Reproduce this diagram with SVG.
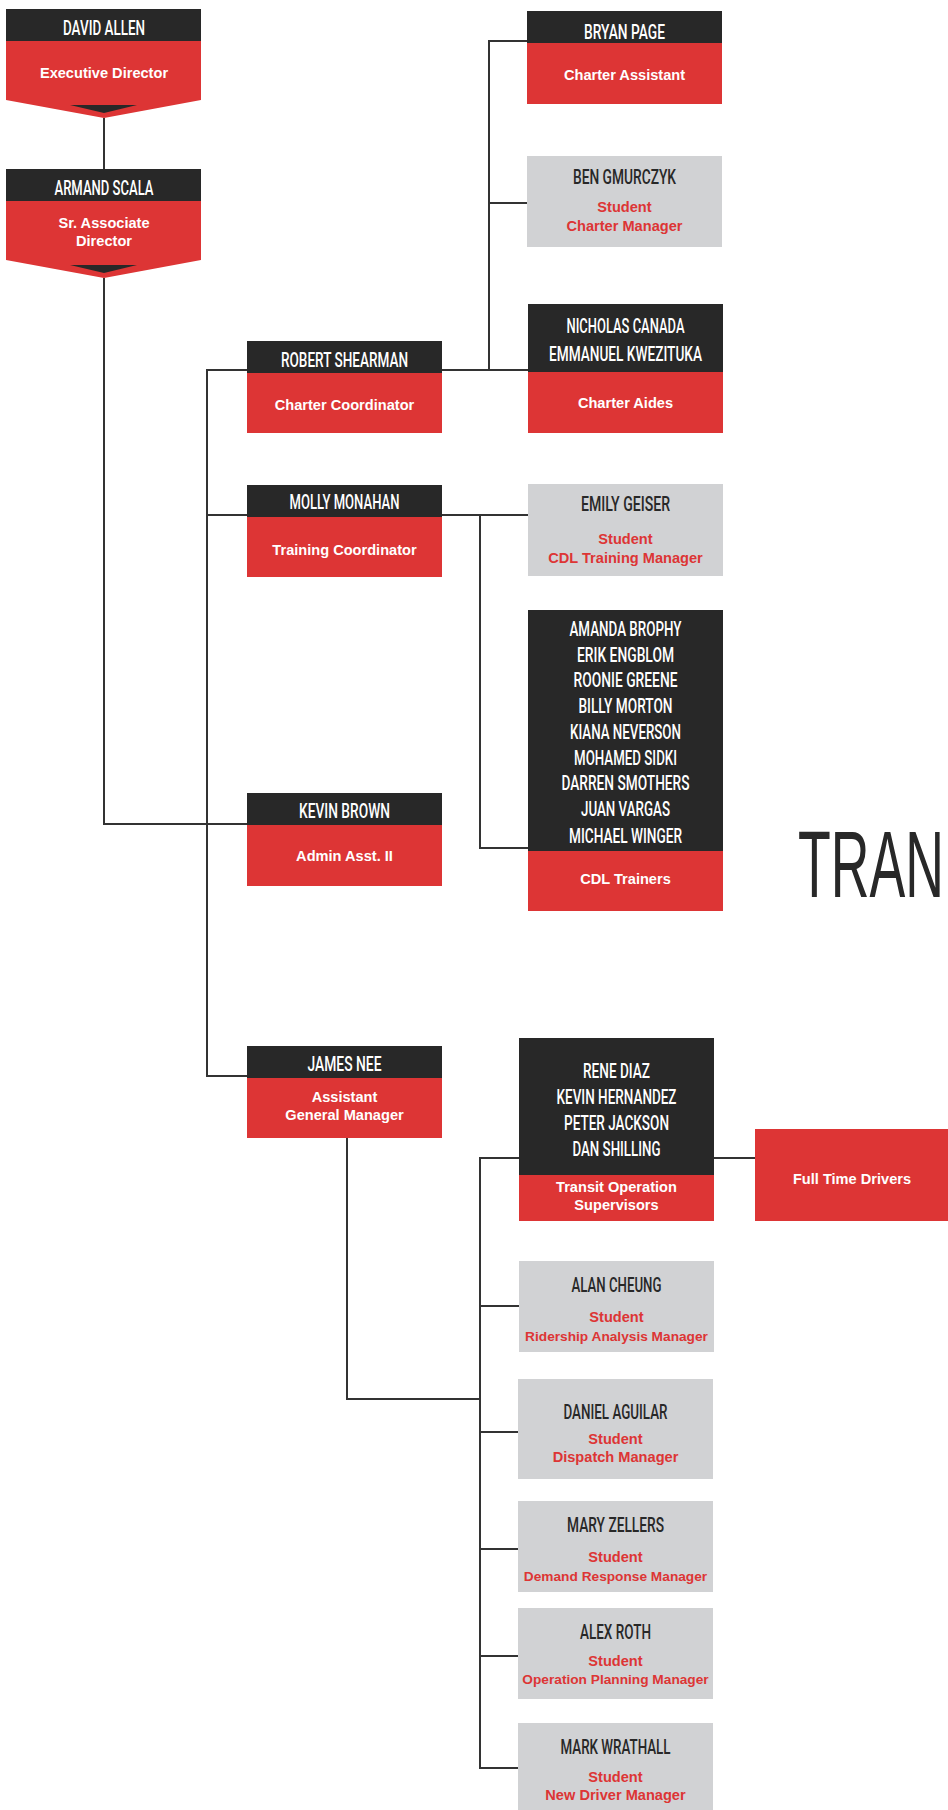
<svg xmlns="http://www.w3.org/2000/svg" width="948" height="1810" viewBox="0 0 948 1810">
<style>
.dk{fill:#282828}
.rd{fill:#dd3535}
.gy{fill:#d1d2d4}
.nm{font-family:Roboto,"Liberation Sans",sans-serif;font-weight:500;font-size:20px;text-anchor:middle}
.nw{fill:#ffffff}
.nb{fill:#282828}
.tt{font-family:"Liberation Sans",Arial,sans-serif;font-weight:bold;font-size:14.6px;text-anchor:middle}
.tw{fill:#ffffff}
.tr{fill:#dd3535}
.sm{font-size:13.7px}
.ln{fill:none;stroke:#333333;stroke-width:2}
</style>
<rect width="948" height="1810" fill="#ffffff"/>
<g id="connectors">
<path class="ln" d="M104,118 V169"/>
<path class="ln" d="M104,278 V824 H247"/>
<path class="ln" d="M247,370 H207 V1076 H247"/>
<path class="ln" d="M207,515 H247"/>
<path class="ln" d="M442,370 H528"/>
<path class="ln" d="M527,41 H489 V370"/>
<path class="ln" d="M489,203 H527"/>
<path class="ln" d="M442,515 H528"/>
<path class="ln" d="M480,515 V848 H528"/>
<path class="ln" d="M347,1138 V1399 H480"/>
<path class="ln" d="M519,1158 H480 V1768 H518"/>
<path class="ln" d="M480,1306 H519"/>
<path class="ln" d="M480,1432 H518"/>
<path class="ln" d="M480,1549 H518"/>
<path class="ln" d="M480,1656 H518"/>
<path class="ln" d="M714,1158 H755"/>
</g>
<g id="title">
<text x="798" y="897" font-family="'Liberation Sans',Arial,sans-serif" font-size="94" fill="#282828" textLength="146" lengthAdjust="spacingAndGlyphs">TRAN</text>
</g>
<g id="david-allen">
<rect class="dk" x="6" y="9" width="195" height="32"/>
<polygon class="rd" points="6,41 201,41 201,100 104,118 6,100"/>
<polygon class="dk" points="70,105 137,105 104,113"/>
<text class="nm nw" x="104" y="35" textLength="82" lengthAdjust="spacingAndGlyphs">DAVID ALLEN</text>
<text class="tt tw" x="104" y="78">Executive Director</text>
</g>
<g id="armand-scala">
<rect class="dk" x="6" y="169" width="195" height="32"/>
<polygon class="rd" points="6,201 201,201 201,260 104,278 6,260"/>
<polygon class="dk" points="70,265 137,265 104,273"/>
<text class="nm nw" x="104" y="195" textLength="99" lengthAdjust="spacingAndGlyphs">ARMAND SCALA</text>
<text class="tt tw" x="104" y="228">Sr. Associate</text>
<text class="tt tw" x="104" y="246">Director</text>
</g>
<g id="robert-shearman">
<rect class="dk" x="247" y="341" width="195" height="32"/>
<rect class="rd" x="247" y="373" width="195" height="60"/>
<text class="nm nw" x="344.5" y="367" textLength="127" lengthAdjust="spacingAndGlyphs">ROBERT SHEARMAN</text>
<text class="tt tw" x="344.5" y="410">Charter Coordinator</text>
</g>
<g id="molly-monahan">
<rect class="dk" x="247" y="485" width="195" height="32"/>
<rect class="rd" x="247" y="517" width="195" height="60"/>
<text class="nm nw" x="344.5" y="509" textLength="110" lengthAdjust="spacingAndGlyphs">MOLLY MONAHAN</text>
<text class="tt tw" x="344.5" y="555">Training Coordinator</text>
</g>
<g id="kevin-brown">
<rect class="dk" x="247" y="793" width="195" height="32"/>
<rect class="rd" x="247" y="825" width="195" height="61"/>
<text class="nm nw" x="344.5" y="818" textLength="91" lengthAdjust="spacingAndGlyphs">KEVIN BROWN</text>
<text class="tt tw" x="344.5" y="861">Admin Asst. II</text>
</g>
<g id="james-nee">
<rect class="dk" x="247" y="1046" width="195" height="32"/>
<rect class="rd" x="247" y="1078" width="195" height="60"/>
<text class="nm nw" x="344.5" y="1071" textLength="74" lengthAdjust="spacingAndGlyphs">JAMES NEE</text>
<text class="tt tw" x="344.5" y="1102">Assistant</text>
<text class="tt tw" x="344.5" y="1120">General Manager</text>
</g>
<g id="bryan-page">
<rect class="dk" x="527" y="11" width="195" height="32"/>
<rect class="rd" x="527" y="43" width="195" height="61"/>
<text class="nm nw" x="624.5" y="39" textLength="81" lengthAdjust="spacingAndGlyphs">BRYAN PAGE</text>
<text class="tt tw" x="624.5" y="80">Charter Assistant</text>
</g>
<g id="ben-gmurczyk">
<rect class="gy" x="527" y="156" width="195" height="91"/>
<text class="nm nb" x="624.5" y="184" textLength="103" lengthAdjust="spacingAndGlyphs">BEN GMURCZYK</text>
<text class="tt tr" x="624.5" y="212">Student</text>
<text class="tt tr" x="624.5" y="231">Charter Manager</text>
</g>
<g id="charter-aides">
<rect class="dk" x="528" y="304" width="195" height="68"/>
<rect class="rd" x="528" y="372" width="195" height="61"/>
<text class="nm nw" x="625.5" y="333" textLength="118" lengthAdjust="spacingAndGlyphs">NICHOLAS CANADA</text>
<text class="nm nw" x="625.5" y="361" textLength="153" lengthAdjust="spacingAndGlyphs">EMMANUEL KWEZITUKA</text>
<text class="tt tw" x="625.5" y="408">Charter Aides</text>
</g>
<g id="emily-geiser">
<rect class="gy" x="528" y="484" width="195" height="92"/>
<text class="nm nb" x="625.5" y="511" textLength="89" lengthAdjust="spacingAndGlyphs">EMILY GEISER</text>
<text class="tt tr" x="625.5" y="544">Student</text>
<text class="tt tr" x="625.5" y="563">CDL Training Manager</text>
</g>
<g id="cdl-trainers">
<rect class="dk" x="528" y="610" width="195" height="241"/>
<rect class="rd" x="528" y="851" width="195" height="60"/>
<text class="nm nw" x="625.5" y="636" textLength="112" lengthAdjust="spacingAndGlyphs">AMANDA BROPHY</text>
<text class="nm nw" x="625.5" y="662" textLength="97" lengthAdjust="spacingAndGlyphs">ERIK ENGBLOM</text>
<text class="nm nw" x="625.5" y="687" textLength="104" lengthAdjust="spacingAndGlyphs">ROONIE GREENE</text>
<text class="nm nw" x="625.5" y="713" textLength="94" lengthAdjust="spacingAndGlyphs">BILLY MORTON</text>
<text class="nm nw" x="625.5" y="739" textLength="111" lengthAdjust="spacingAndGlyphs">KIANA NEVERSON</text>
<text class="nm nw" x="625.5" y="765" textLength="103" lengthAdjust="spacingAndGlyphs">MOHAMED SIDKI</text>
<text class="nm nw" x="625.5" y="790" textLength="128" lengthAdjust="spacingAndGlyphs">DARREN SMOTHERS</text>
<text class="nm nw" x="625.5" y="816" textLength="89" lengthAdjust="spacingAndGlyphs">JUAN VARGAS</text>
<text class="nm nw" x="625.5" y="843" textLength="113" lengthAdjust="spacingAndGlyphs">MICHAEL WINGER</text>
<text class="tt tw" x="625.5" y="884">CDL Trainers</text>
</g>
<g id="transit-supervisors">
<rect class="dk" x="519" y="1038" width="195" height="137"/>
<rect class="rd" x="519" y="1175" width="195" height="46"/>
<text class="nm nw" x="616.5" y="1078" textLength="67" lengthAdjust="spacingAndGlyphs">RENE DIAZ</text>
<text class="nm nw" x="616.5" y="1104" textLength="120" lengthAdjust="spacingAndGlyphs">KEVIN HERNANDEZ</text>
<text class="nm nw" x="616.5" y="1130" textLength="105" lengthAdjust="spacingAndGlyphs">PETER JACKSON</text>
<text class="nm nw" x="616.5" y="1156" textLength="88" lengthAdjust="spacingAndGlyphs">DAN SHILLING</text>
<text class="tt tw" x="616.5" y="1192">Transit Operation</text>
<text class="tt tw" x="616.5" y="1210">Supervisors</text>
</g>
<g id="full-time-drivers">
<rect class="rd" x="755" y="1129" width="193" height="92"/>
<text class="tt tw" x="852" y="1184">Full Time Drivers</text>
</g>
<g id="alan-cheung">
<rect class="gy" x="519" y="1261" width="195" height="91"/>
<text class="nm nb" x="616.5" y="1292" textLength="90" lengthAdjust="spacingAndGlyphs">ALAN CHEUNG</text>
<text class="tt tr" x="616.5" y="1322">Student</text>
<text class="tt tr sm" x="616.5" y="1341">Ridership Analysis Manager</text>
</g>
<g id="daniel-aguilar">
<rect class="gy" x="518" y="1379" width="195" height="100"/>
<text class="nm nb" x="615.5" y="1419" textLength="104" lengthAdjust="spacingAndGlyphs">DANIEL AGUILAR</text>
<text class="tt tr" x="615.5" y="1444">Student</text>
<text class="tt tr" x="615.5" y="1462">Dispatch Manager</text>
</g>
<g id="mary-zellers">
<rect class="gy" x="518" y="1501" width="195" height="91"/>
<text class="nm nb" x="615.5" y="1532" textLength="97" lengthAdjust="spacingAndGlyphs">MARY ZELLERS</text>
<text class="tt tr" x="615.5" y="1562">Student</text>
<text class="tt tr sm" x="615.5" y="1581">Demand Response Manager</text>
</g>
<g id="alex-roth">
<rect class="gy" x="518" y="1608" width="195" height="91"/>
<text class="nm nb" x="615.5" y="1639" textLength="71" lengthAdjust="spacingAndGlyphs">ALEX ROTH</text>
<text class="tt tr" x="615.5" y="1666">Student</text>
<text class="tt tr sm" x="615.5" y="1684">Operation Planning Manager</text>
</g>
<g id="mark-wrathall">
<rect class="gy" x="518" y="1723" width="195" height="87"/>
<text class="nm nb" x="615.5" y="1754" textLength="110" lengthAdjust="spacingAndGlyphs">MARK WRATHALL</text>
<text class="tt tr" x="615.5" y="1782">Student</text>
<text class="tt tr" x="615.5" y="1800">New Driver Manager</text>
</g>
</svg>
